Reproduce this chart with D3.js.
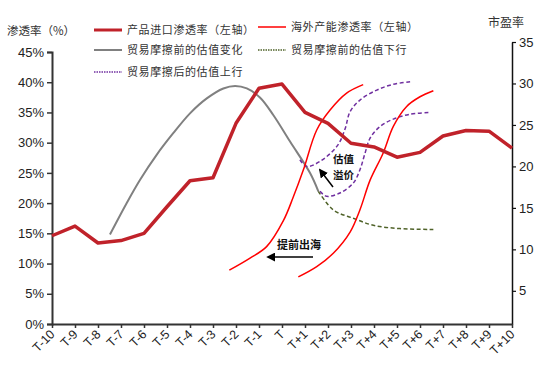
<!DOCTYPE html>
<html>
<head>
<meta charset="utf-8">
<script src="https://cdn.jsdelivr.net/npm/d3@7"></script>
<style>
  body { margin: 0; background: #fff; }
  svg { display: block; }
  .cn { font-family: "Noto Sans CJK SC", sans-serif; }
  .num { font-family: "Liberation Sans", Arial, sans-serif; }
</style>
</head>
<body>
<div id="chart"></div>
<script>
// Chart size.
const WIDTH = 544;
const HEIGHT = 369;

// Categories on the x axis (T-10 ... T+10).
const categories = [
  "T-10", "T-9", "T-8", "T-7", "T-6", "T-5", "T-4", "T-3", "T-2", "T-1", "T",
  "T+1", "T+2", "T+3", "T+4", "T+5", "T+6", "T+7", "T+8", "T+9", "T+10",
];

// Product import penetration rate (%), left axis, one per category.
const importRate = [
  14.6, 16.2, 13.4, 13.8, 15.0, 19.4, 23.7, 24.2, 33.2, 39.0, 39.7,
  35.0, 33.2, 29.9, 29.3, 27.6, 28.4, 31.1, 32.0, 31.9, 29.1,
];

// Overseas capacity penetration rate (%), left axis: [period, value].
const overseasA = [
  [-2.29, 8.9], [-1.39, 10.9], [-0.67, 12.8], [0.06, 17.1], [0.49, 21.0],
  [0.93, 25.5], [1.51, 32.1], [2.09, 35.4], [2.81, 38.2], [3.53, 39.6],
];
const overseasB = [
  [0.71, 7.8], [1.51, 9.5], [2.23, 11.7], [2.96, 15.2], [3.39, 18.9],
  [3.83, 23.8], [4.4, 28.3], [4.84, 32.7], [5.42, 36.0], [6.0, 37.6], [6.58, 38.6],
];

// Valuation (P/E), right axis: [period, value].
const peBefore = [
  [-7.48, 11.8], [-6.75, 15.6], [-6.17, 18.4], [-5.45, 21.4], [-4.73, 24.0],
  [-4.0, 26.4], [-3.27, 28.2], [-2.55, 29.4], [-2.04, 29.7], [-1.53, 29.4],
  [-0.96, 28.3], [-0.38, 26.2], [0.35, 23.0], [1.22, 19.2], [1.58, 17.0],
];
const peDown = [
  [1.58, 17.0], [2.23, 14.75], [3.1, 13.75], [3.97, 12.9], [5.13, 12.5], [6.58, 12.4],
];
const peUpA = [
  [0.78, 20.8], [1.07, 20.0], [1.65, 20.6], [2.41, 22.5], [2.74, 24.5],
  [2.96, 26.6], [3.39, 28.0], [4.12, 29.2], [4.84, 29.9], [5.57, 30.2],
];
const peUpB = [
  [1.65, 17.0], [1.94, 16.4], [2.52, 16.8], [3.1, 18.0], [3.39, 19.6],
  [3.61, 21.6], [3.83, 23.4], [4.26, 24.8], [4.84, 25.7], [5.57, 26.3], [6.43, 26.5],
];

// Axis ticks.
const leftTicks = [0, 5, 10, 15, 20, 25, 30, 35, 40, 45];
const rightTicks = [5, 10, 15, 20, 25, 30, 35];

const COLORS = {
  importRate: "#c0222a",
  overseas: "#ff0000",
  before: "#808080",
  down: "#4f6228",
  up: "#7030a0",
};

let svg = d3
  .select("#chart")
  .append("svg")
  .attr("width", WIDTH)
  .attr("height", HEIGHT);

let x = d3.scaleLinear().domain([-10, 10]).range([52, 512]);
let yL = d3.scaleLinear().domain([0, 45]).range([324, 52]);
let yR = d3.scaleLinear().domain([1, 35]).range([324, 42]);

// Left axis.
let leftAxis = svg
  .append("g")
  .attr("transform", "translate(52,0)")
  .call(d3.axisLeft(yL).tickValues(leftTicks).tickSize(5).tickFormat((d) => d + "%"));
leftAxis.select(".domain").attr("stroke", "#333").attr("stroke-width", 2);
leftAxis.selectAll(".tick line").attr("stroke", "#333").attr("stroke-width", 1.5);
leftAxis.selectAll("text")
  .attr("class", "num")
  .attr("font-size", 13)
  .attr("fill", "#222")
  .attr("x", -8);

// Right axis.
let rightAxis = svg
  .append("g")
  .attr("transform", "translate(512,0)")
  .call(d3.axisRight(yR).tickValues(rightTicks).tickSize(4).tickSizeOuter(0));
rightAxis.select(".domain").attr("stroke", "#111").attr("stroke-width", 1.5);
rightAxis.selectAll(".tick line").attr("stroke", "#111").attr("stroke-width", 1.2);
rightAxis.selectAll("text")
  .attr("class", "num")
  .attr("font-size", 13)
  .attr("fill", "#222")
  .attr("x", 7);

// Bottom axis.
let bottomAxis = svg
  .append("g")
  .attr("transform", "translate(0,324)")
  .call(
    d3.axisBottom(x)
      .tickValues(d3.range(-10, 11))
      .tickSize(4)
      .tickSizeOuter(0)
      .tickFormat((d, i) => categories[i])
  );
bottomAxis.select(".domain").attr("stroke", "#333").attr("stroke-width", 2);
bottomAxis.selectAll(".tick line").attr("stroke", "#333").attr("stroke-width", 1.5);
bottomAxis.selectAll("text")
  .attr("class", "num")
  .attr("font-size", 12.5)
  .attr("fill", "#222")
  .attr("text-anchor", "end")
  .attr("dy", null)
  .attr("y", 0)
  .attr("transform", "translate(3,11) rotate(-45)");

// Axis titles.
svg.append("text")
  .attr("class", "cn")
  .attr("x", 7)
  .attr("y", 35)
  .attr("font-size", 11.5)
  .attr("fill", "#333")
  .text("渗透率（%）");
svg.append("text")
  .attr("class", "cn")
  .attr("x", 488)
  .attr("y", 27)
  .attr("font-size", 12)
  .attr("fill", "#333")
  .text("市盈率");

// Line generators.
let lineL = d3.line().x((d) => x(d[0])).y((d) => yL(d[1])).curve(d3.curveCatmullRom.alpha(0.5));
let lineR = d3.line().x((d) => x(d[0])).y((d) => yR(d[1])).curve(d3.curveCatmullRom.alpha(0.5));
let lineImport = d3.line().x((d, i) => x(i - 10)).y((d) => yL(d));

// Gray valuation curve before friction.
svg.append("path")
  .attr("d", lineR(peBefore))
  .attr("fill", "none")
  .attr("stroke", COLORS.before)
  .attr("stroke-width", 2);

// Green dashed, valuation down.
svg.append("path")
  .attr("d", lineR(peDown))
  .attr("fill", "none")
  .attr("stroke", COLORS.down)
  .attr("stroke-width", 1.5)
  .attr("stroke-dasharray", "4,2.5");

// Purple dashed, valuation up.
[peUpA, peUpB].forEach((s) => {
  svg.append("path")
    .attr("d", lineR(s))
    .attr("fill", "none")
    .attr("stroke", COLORS.up)
    .attr("stroke-width", 1.5)
    .attr("stroke-dasharray", "4,2.5");
});

// Thin red, overseas capacity penetration.
[overseasA, overseasB].forEach((s) => {
  svg.append("path")
    .attr("d", lineL(s))
    .attr("fill", "none")
    .attr("stroke", COLORS.overseas)
    .attr("stroke-width", 1.5);
});

// Thick red, product import penetration.
svg.append("path")
  .attr("d", lineImport(importRate))
  .attr("fill", "none")
  .attr("stroke", COLORS.importRate)
  .attr("stroke-width", 3.5)
  .attr("stroke-linejoin", "round");

// Arrow marker.
svg.append("defs")
  .append("marker")
  .attr("id", "arrow")
  .attr("viewBox", "0 0 10 10")
  .attr("refX", 8)
  .attr("refY", 5)
  .attr("markerWidth", 6)
  .attr("markerHeight", 6)
  .attr("orient", "auto")
  .append("path")
  .attr("d", "M0,0 L10,5 L0,10 z")
  .attr("fill", "#000");

// Annotations.
svg.append("line")
  .attr("x1", 333).attr("y1", 187)
  .attr("x2", 320).attr("y2", 170)
  .attr("stroke", "#000").attr("stroke-width", 1.5)
  .attr("marker-end", "url(#arrow)");
svg.append("text")
  .attr("class", "cn")
  .attr("x", 333).attr("y", 163)
  .attr("font-size", 10.5).attr("font-weight", "bold").attr("fill", "#111")
  .text("估值");
svg.append("text")
  .attr("class", "cn")
  .attr("x", 333).attr("y", 179)
  .attr("font-size", 10.5).attr("font-weight", "bold").attr("fill", "#111")
  .text("溢价");

svg.append("line")
  .attr("x1", 313).attr("y1", 257)
  .attr("x2", 268).attr("y2", 257)
  .attr("stroke", "#000").attr("stroke-width", 1.5)
  .attr("marker-end", "url(#arrow)");
svg.append("text")
  .attr("class", "cn")
  .attr("x", 277).attr("y", 249)
  .attr("font-size", 11).attr("font-weight", "bold").attr("fill", "#111")
  .text("提前出海");

// Legend.
const legendItems = [
  { label: "产品进口渗透率（左轴）", color: COLORS.importRate, w: 3, dash: null, x: 94, y: 30 },
  { label: "海外产能渗透率（左轴）", color: COLORS.overseas, w: 1.5, dash: null, x: 258, y: 27 },
  { label: "贸易摩擦前的估值变化", color: COLORS.before, w: 2, dash: null, x: 94, y: 50 },
  { label: "贸易摩擦前的估值下行", color: COLORS.down, w: 1.5, dash: "1.5,1", x: 258, y: 50 },
  { label: "贸易摩擦后的估值上行", color: COLORS.up, w: 1.5, dash: "1.5,1", x: 94, y: 72 },
];

let lg = svg
  .selectAll(".legend")
  .data(legendItems)
  .enter()
  .append("g")
  .attr("transform", (d) => "translate(" + d.x + "," + d.y + ")");

lg.append("line")
  .attr("x1", 0).attr("x2", 28)
  .attr("stroke", (d) => d.color)
  .attr("stroke-width", (d) => d.w)
  .attr("stroke-dasharray", (d) => d.dash);

lg.append("text")
  .attr("class", "cn")
  .attr("x", 33)
  .attr("dy", "0.35em")
  .attr("font-size", 11)
  .attr("letter-spacing", 0.6)
  .attr("fill", "#333")
  .text((d) => d.label);
</script>
</body>
</html>
